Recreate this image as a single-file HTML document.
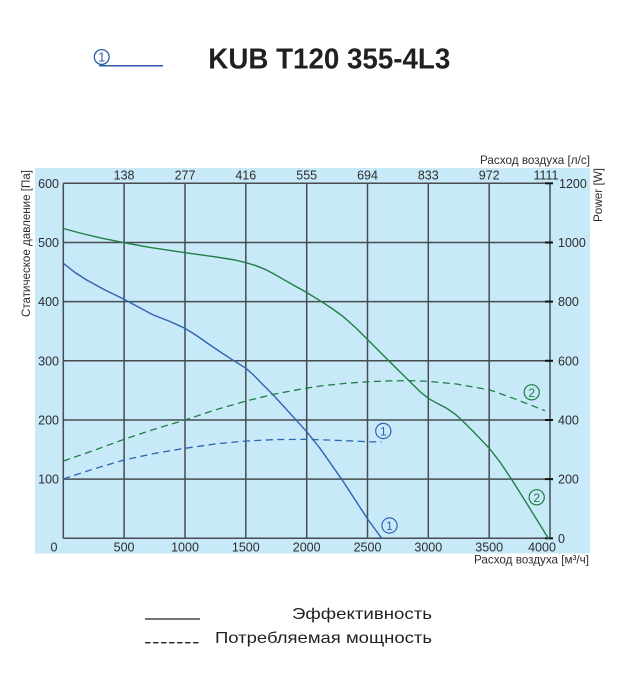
<!DOCTYPE html>
<html>
<head>
<meta charset="utf-8">
<style>
html,body{margin:0;padding:0;background:#fff;}
svg{display:block;}
text{font-family:"Liberation Sans",Arial,sans-serif;}
</style>
</head>
<body>
<svg width="634" height="700" viewBox="0 0 634 700" xmlns="http://www.w3.org/2000/svg">
  <rect x="0" y="0" width="634" height="700" fill="#ffffff"/>

  <!-- Title -->
  <circle cx="101.7" cy="57" r="7.4" fill="none" stroke="#2b5ca8" stroke-width="1.3"/>
  <text x="101.7" y="61.6" font-size="12.5" fill="#2b5ca8" text-anchor="middle">1</text>
  <line x1="99" y1="65.8" x2="163" y2="65.8" stroke="#2b5ca8" stroke-width="1.5"/>
  <text x="208.3" y="68.3" font-size="28.5" font-weight="bold" fill="#231f20" textLength="242" lengthAdjust="spacingAndGlyphs">KUB T120 355-4L3</text>

  <!-- Chart background -->
  <rect x="35" y="168" width="555" height="385.5" fill="#c8e9f8"/>

  <!-- Grid -->
  <g stroke="#464c50" stroke-width="1.5" fill="none">
    <line x1="63.3" y1="183.3" x2="63.3" y2="538.3"/>
    <line x1="124.1" y1="183.3" x2="124.1" y2="538.3"/>
    <line x1="185" y1="183.3" x2="185" y2="538.3"/>
    <line x1="245.8" y1="183.3" x2="245.8" y2="538.3"/>
    <line x1="306.7" y1="183.3" x2="306.7" y2="538.3"/>
    <line x1="367.5" y1="183.3" x2="367.5" y2="538.3"/>
    <line x1="428.3" y1="183.3" x2="428.3" y2="538.3"/>
    <line x1="489.2" y1="183.3" x2="489.2" y2="538.3"/>
    <line x1="550" y1="183.3" x2="550" y2="538.3"/>

    <line x1="63.3" y1="183.3" x2="550" y2="183.3"/>
    <line x1="63.3" y1="242.5" x2="550" y2="242.5"/>
    <line x1="63.3" y1="301.6" x2="550" y2="301.6"/>
    <line x1="63.3" y1="360.8" x2="550" y2="360.8"/>
    <line x1="63.3" y1="420" x2="550" y2="420"/>
    <line x1="63.3" y1="479.1" x2="550" y2="479.1"/>
    <line x1="63.3" y1="538.3" x2="550" y2="538.3"/>
  </g>
  <!-- right ticks -->
  <g stroke="#111" stroke-width="2">
    <line x1="545" y1="183.3" x2="553" y2="183.3"/>
    <line x1="545" y1="242.5" x2="553" y2="242.5"/>
    <line x1="545" y1="301.6" x2="553" y2="301.6"/>
    <line x1="545" y1="360.8" x2="553" y2="360.8"/>
    <line x1="545" y1="420" x2="553" y2="420"/>
    <line x1="545" y1="479.1" x2="553" y2="479.1"/>
    <line x1="545" y1="538.3" x2="553" y2="538.3"/>
  </g>

  <!-- Left tick labels -->
  <g font-size="12.5" fill="#2d2d2d" text-anchor="end">
    <text x="59" y="188">600</text>
    <text x="59" y="247">500</text>
    <text x="59" y="306">400</text>
    <text x="59" y="365.3">300</text>
    <text x="59" y="424.5">200</text>
    <text x="59" y="483.6">100</text>
  </g>
  <text x="54" y="551.5" font-size="12.5" fill="#2d2d2d" text-anchor="middle">0</text>

  <!-- Bottom tick labels -->
  <g font-size="12.5" fill="#2d2d2d" text-anchor="middle">
    <text x="124.1" y="551.5">500</text>
    <text x="185" y="551.5">1000</text>
    <text x="245.8" y="551.5">1500</text>
    <text x="306.7" y="551.5">2000</text>
    <text x="367.5" y="551.5">2500</text>
    <text x="428.3" y="551.5">3000</text>
    <text x="489.2" y="551.5">3500</text>
    <text x="542" y="551.5">4000</text>
  </g>

  <!-- Top tick labels -->
  <g font-size="12.5" fill="#2d2d2d" text-anchor="middle">
    <text x="124.1" y="179.5">138</text>
    <text x="185" y="179.5">277</text>
    <text x="245.8" y="179.5">416</text>
    <text x="306.7" y="179.5">555</text>
    <text x="367.5" y="179.5">694</text>
    <text x="428.3" y="179.5">833</text>
    <text x="489.2" y="179.5">972</text>
    <text x="546" y="179.5">1111</text>
  </g>

  <!-- Right tick labels -->
  <g font-size="12.5" fill="#2d2d2d" text-anchor="start">
    <text x="559" y="188">1200</text>
    <text x="558" y="247">1000</text>
    <text x="558" y="306">800</text>
    <text x="558" y="365.3">600</text>
    <text x="558" y="424.5">400</text>
    <text x="558" y="483.6">200</text>
    <text x="558" y="542.8">0</text>
  </g>

  <!-- Axis titles -->
  <text x="590" y="164" font-size="12" fill="#2d2d2d" text-anchor="end" textLength="110" lengthAdjust="spacingAndGlyphs">Расход воздуха [л/с]</text>
  <text x="589" y="563.5" font-size="12" fill="#2d2d2d" text-anchor="end" textLength="115" lengthAdjust="spacingAndGlyphs">Расход воздуха [м³/ч]</text>
  <text transform="translate(30,170) rotate(-90)" font-size="11.5" fill="#2d2d2d" text-anchor="end" textLength="147" lengthAdjust="spacingAndGlyphs">Статическое давление [Па]</text>
  <text transform="translate(602,168) rotate(-90)" font-size="12" fill="#2d2d2d" text-anchor="end" textLength="54" lengthAdjust="spacingAndGlyphs">Power [W]</text>

  <!-- Curves -->
  <g fill="none" stroke-linejoin="round" stroke-linecap="round">
    <!-- green solid (2) -->
    <polyline stroke="#1f7f45" stroke-width="1.4" points="63.3,228.5 80,233 100,237.8 124,242.7 150,247.4 185,252.7 215,256.8 235,260 246,262.7 255,265.3 265,269.3 275,274.5 285,280.3 296,286.5 306.7,292.5 320,300.7 332,308.5 343.3,316.7 356,328 368,340 388,360 410,381.7 421,392.5 428.3,398.3 437,403.3 446.7,408.3 455,414 461.7,420 475,433.3 489.3,448.3 500,462 511,478.5 526.7,503.3 548.3,538.3"/>
    <!-- blue solid (1) -->
    <polyline stroke="#2f63b3" stroke-width="1.4" points="63.3,263.3 75,272.5 86.7,280 105,290 124,299.3 153.3,315 170,321.5 185,328.3 198,336.5 210,345 230,358.3 246,368.3 253,374.5 260,381.7 273.3,395 290,413.3 306.7,431.7 320,448.3 341.7,479.3 368.3,520 381.7,538.3"/>
    <!-- green dashed -->
    <polyline stroke="#1f7f45" stroke-width="1.3" stroke-dasharray="7 4.5" stroke-linecap="butt" points="63.3,461 95,450 124,439.3 155,429 185,420 215,410 246,401 275,394 300,389.3 320,386 345,383.4 368.3,381.7 390,380.9 410,380.7 428.3,381.3 456.7,384 490,390 513.3,398.3 545,410.7"/>
    <!-- blue dashed -->
    <polyline stroke="#2f63b3" stroke-width="1.3" stroke-dasharray="7 4.5" stroke-linecap="butt" points="63.3,479 95,468.5 124,460 155,453.3 185,448.3 215,444 246,441 275,439.6 306.7,439.3 340,440.5 368.3,441.7 381.7,442"/>
  </g>

  <!-- Curve labels -->
  <g>
    <circle cx="383.3" cy="431" r="7.6" fill="none" stroke="#2f63b3" stroke-width="1.2"/>
    <text x="383.3" y="435.5" font-size="12" fill="#2f63b3" text-anchor="middle">1</text>
    <circle cx="389.5" cy="525.5" r="7.6" fill="none" stroke="#2f63b3" stroke-width="1.2"/>
    <text x="389.5" y="530" font-size="12" fill="#2f63b3" text-anchor="middle">1</text>
    <circle cx="531.7" cy="392.3" r="7.6" fill="none" stroke="#1f7f45" stroke-width="1.2"/>
    <text x="531.7" y="396.8" font-size="12" fill="#1f7f45" text-anchor="middle">2</text>
    <circle cx="536.7" cy="497.3" r="7.6" fill="none" stroke="#1f7f45" stroke-width="1.2"/>
    <text x="536.7" y="501.8" font-size="12" fill="#1f7f45" text-anchor="middle">2</text>
  </g>

  <!-- Legend -->
  <line x1="145" y1="619" x2="200" y2="619" stroke="#222" stroke-width="1.3"/>
  <text x="432" y="619" font-size="16" fill="#231f20" text-anchor="end" textLength="140" lengthAdjust="spacingAndGlyphs">Эффективность</text>
  <line x1="145" y1="642.7" x2="200" y2="642.7" stroke="#222" stroke-width="1.3" stroke-dasharray="5.5 2.5"/>
  <text x="432" y="643" font-size="16" fill="#231f20" text-anchor="end" textLength="217" lengthAdjust="spacingAndGlyphs">Потребляемая мощность</text>
</svg>
</body>
</html>
